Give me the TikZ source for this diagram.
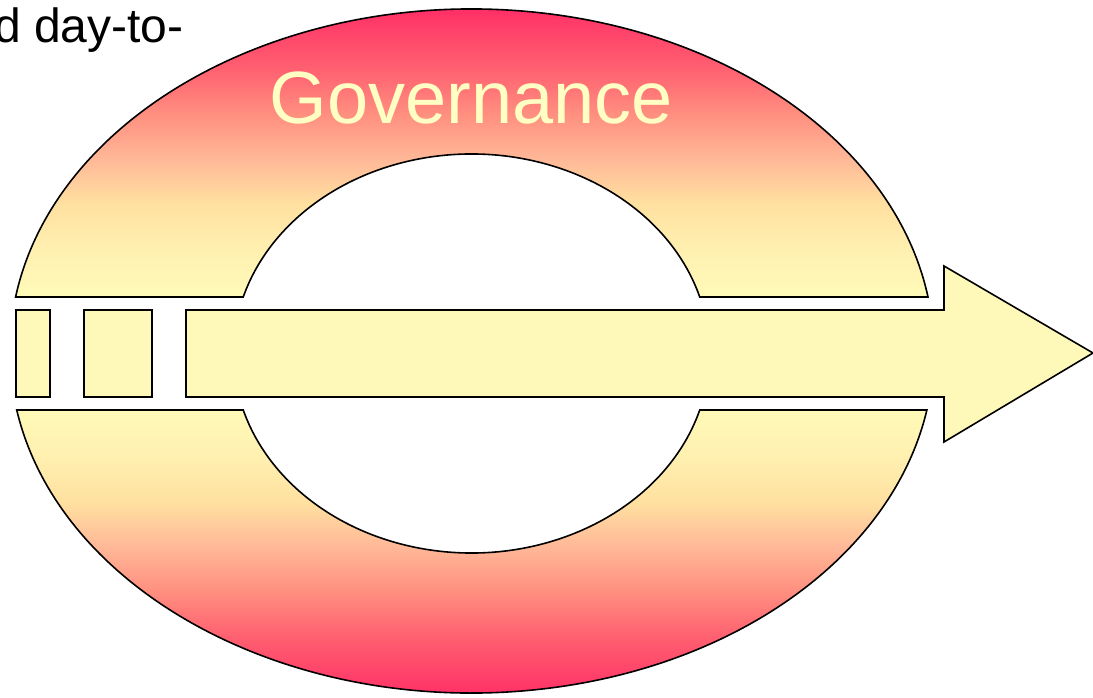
\documentclass[tikz,border=0pt]{standalone}
\usepackage{fontspec}
\setmainfont{Liberation Sans}
\definecolor{cA}{HTML}{FFFAB8}
\definecolor{cB}{HTML}{FFF0B0}
\definecolor{cC}{HTML}{FFE0A0}
\definecolor{cD}{HTML}{FFB898}
\definecolor{cE}{HTML}{FF9080}
\definecolor{cF}{HTML}{FF6070}
\definecolor{cG}{HTML}{FF3868}
\definecolor{cH}{HTML}{FF1062}
\definecolor{arrowfill}{HTML}{FFF9B9}
\definecolor{govtext}{HTML}{FFFFC4}
\pgfdeclareverticalshading{ringtop}{100bp}{color(0bp)=(cA); color(25bp)=(cA); color(32.5bp)=(cB); color(40bp)=(cC); color(47bp)=(cD); color(54bp)=(cE); color(61.5bp)=(cF); color(69.5bp)=(cG); color(75bp)=(cH); color(100bp)=(cH)}
\pgfdeclareverticalshading{ringbottom}{100bp}{color(0bp)=(cH); color(25bp)=(cH); color(30.5bp)=(cG); color(38.5bp)=(cF); color(46bp)=(cE); color(53bp)=(cD); color(60bp)=(cC); color(67.5bp)=(cB); color(75bp)=(cA); color(100bp)=(cA)}
\tikzset{
  outline/.style={draw=black, line width=1.6pt, line join=miter},
  boxfill/.style={outline, fill=arrowfill},
  bigtext/.style={inner sep=0pt, font=\fontsize{74}{88}\selectfont, text=govtext},
  captext/.style={inner sep=0pt, font=\fontsize{48}{58}\selectfont, text=black}
}
\begin{document}
\begin{tikzpicture}[x=1pt,y=1pt]
\useasboundingbox (0,0) rectangle (1093,697);
% ellipse parameters
\def\ocx{471.8}\def\ocy{346}\def\orx{462}\def\ory{342}
\def\icx{471.5}\def\icy{343.5}\def\irx{238}\def\iry{199.5}
\pgfmathsetmacro{\aT}{asin((400-\ocy)/\ory)}
\pgfmathsetmacro{\bT}{asin((400-\icy)/\iry)}
\pgfmathsetmacro{\aB}{asin((287-\ocy)/\ory)}
\pgfmathsetmacro{\bB}{asin((287-\icy)/\iry)}
% top half of ring
\path[outline, shading=ringtop]
  ([shift={(\ocx,\ocy)}]180-\aT:\orx pt and \ory pt)
  arc[start angle=180-\aT, end angle=\aT, x radius=\orx pt, y radius=\ory pt]
  -- ([shift={(\icx,\icy)}]\bT:\irx pt and \iry pt)
  arc[start angle=\bT, end angle=180-\bT, x radius=\irx pt, y radius=\iry pt]
  -- cycle;
% bottom half of ring
\path[outline, shading=ringbottom]
  ([shift={(\ocx,\ocy)}]180-\aB:\orx pt and \ory pt)
  arc[start angle=180-\aB, end angle=360+\aB, x radius=\orx pt, y radius=\ory pt]
  -- ([shift={(\icx,\icy)}]360+\bB:\irx pt and \iry pt)
  arc[start angle=360+\bB, end angle=180-\bB, x radius=\irx pt, y radius=\iry pt]
  -- cycle;
% small boxes
\path[boxfill] (16,300) rectangle (50,387);
\path[boxfill] (84,300) rectangle (152,387);
% arrow
\path[boxfill] (186,387) -- (944,387) -- (944,431) -- (1093,344) -- (944,255) -- (944,300) -- (186,300) -- cycle;
% texts
\node[bigtext, anchor=base] (gov) at (471.5,573) {Governance};
\node[captext, anchor=base west] (cap) at (-6,654) {d day-to-};
\end{tikzpicture}
\end{document}
